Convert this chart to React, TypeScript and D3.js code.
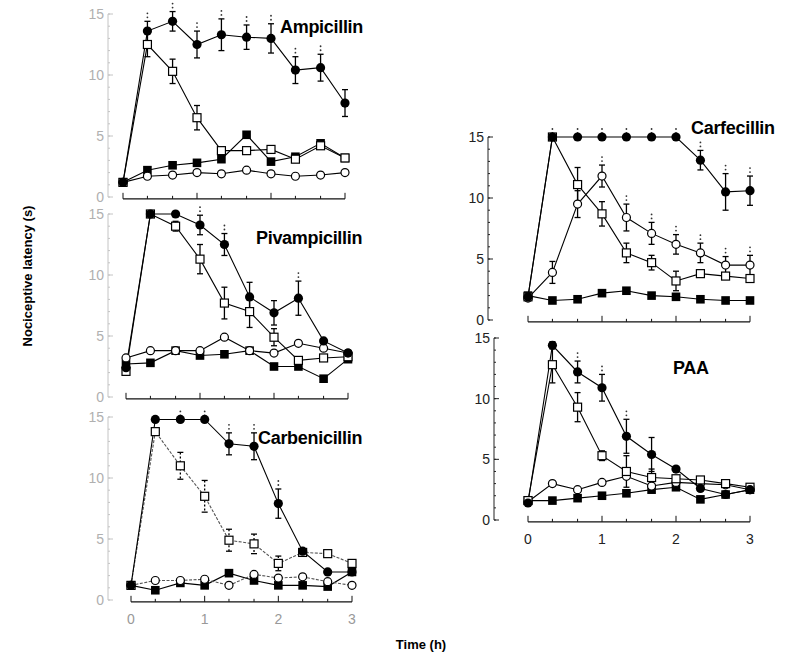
import * as d3 from "d3";

// sampling times (h)
const times = [0, 0.33, 0.67, 1, 1.33, 1.67, 2, 2.33, 2.67, 3];

// Ampicillin
const ampFilledCircle = [1.2, 13.6, 14.4, 12.5, 13.3, 13.1, 13.0, 10.4, 10.6, 7.7];
const ampFilledCircleErr = [0, 0.8, 0.8, 1.1, 1.3, 1.0, 1.2, 1.1, 1.1, 1.1];
const ampFilledCircleSig = [0, 1, 1, 1, 1, 1, 1, 1, 1, 0];
const ampOpenSquare = [1.2, 12.5, 10.3, 6.5, 3.8, 3.8, 3.9, 3.1, 4.2, 3.2];
const ampOpenSquareErr = [0, 1.0, 1.0, 1.0, 0, 0, 0, 0, 0, 0];
const ampFilledSquare = [1.2, 2.2, 2.6, 2.8, 3.1, 5.1, 2.9, 3.3, 4.4, 3.2];
const ampOpenCircle = [1.2, 1.7, 1.8, 2.0, 1.9, 2.2, 1.9, 1.7, 1.8, 2.0];

// Pivampicillin
const pivFilledCircle = [2.4, 15, 15, 14.1, 12.5, 8.2, 6.9, 8.1, 4.6, 3.6];
const pivFilledCircleErr = [0, 0, 0, 0.8, 0.9, 1.2, 1.0, 1.4, 0, 0];
const pivFilledCircleSig = [0, 0, 0, 1, 1, 0, 0, 1, 0, 0];
const pivOpenSquare = [2.1, 15, 14.0, 11.3, 7.7, 7.0, 4.9, 3.0, 3.2, 3.3];
const pivOpenSquareErr = [0, 0, 0.4, 1.2, 1.3, 1.3, 0.7, 0, 0, 0];
const pivFilledSquare = [2.7, 2.8, 3.8, 3.4, 3.5, 3.8, 2.5, 2.5, 1.5, 3.1];
const pivOpenCircle = [3.2, 3.8, 3.8, 3.8, 4.9, 3.8, 3.6, 4.4, 4.0, 3.6];

// Carbenicillin
const carbFilledCircle = [1.2, 14.8, 14.8, 14.8, 12.8, 12.6, 7.9, 4.0, 2.3, 2.3];
const carbFilledCircleErr = [0, 0, 0, 0, 0.9, 1.1, 1.2, 0, 0, 0];
const carbFilledCircleSig = [0, 0, 1, 1, 1, 1, 1, 0, 0, 0];
const carbOpenSquare = [1.2, 13.8, 11.0, 8.5, 4.9, 4.6, 3.0, 3.9, 3.8, 3.0];
const carbOpenSquareErr = [0, 0, 1.1, 1.3, 0.9, 0.8, 0.6, 0, 0, 0];
const carbFilledSquare = [1.2, 0.8, 1.4, 1.2, 2.2, 1.6, 1.2, 1.2, 1.1, 2.3];
const carbOpenCircle = [1.2, 1.6, 1.6, 1.7, 1.2, 2.1, 1.8, 1.9, 1.5, 1.2];

// Carfecillin
const carfFilledCircle = [1.9, 15, 15, 15, 15, 15, 15, 13.1, 10.5, 10.6];
const carfFilledCircleErr = [0, 0, 0, 0, 0, 0, 0, 0.8, 1.5, 1.2];
const carfFilledCircleSig = [0, 1, 1, 1, 1, 1, 1, 1, 1, 1];
const carfOpenSquare = [1.9, 15, 11.1, 8.7, 5.5, 4.7, 3.2, 3.8, 3.6, 3.4];
const carfOpenSquareErr = [0, 0, 1.4, 1.0, 0.8, 0.6, 0.8, 0, 0, 0];
const carfOpenCircle = [1.8, 3.9, 9.5, 11.8, 8.4, 7.1, 6.2, 5.5, 4.5, 4.5];
const carfOpenCircleErr = [0, 0.9, 1.1, 0.9, 1.1, 0.9, 0.8, 0.8, 0.7, 0.8];
const carfOpenCircleSig = [0, 0, 1, 1, 1, 1, 1, 1, 1, 1];
const carfFilledSquare = [2.0, 1.6, 1.7, 2.2, 2.4, 2.0, 1.9, 1.7, 1.6, 1.6];

// PAA
const paaFilledCircle = [1.4, 14.4, 12.2, 10.9, 6.9, 5.4, 4.2, 2.6, 2.1, 2.5];
const paaFilledCircleErr = [0, 0.3, 0.9, 1.1, 1.4, 1.4, 0, 0, 0, 0];
const paaFilledCircleSig = [0, 0, 1, 1, 1, 0, 0, 0, 0, 0];
const paaOpenSquare = [1.6, 12.8, 9.3, 5.3, 4.0, 3.5, 3.4, 3.3, 3.0, 2.7];
const paaOpenSquareErr = [0, 1.5, 1.2, 0.4, 1.3, 0.7, 0, 0, 0, 0];
const paaOpenCircle = [1.5, 3.0, 2.5, 3.1, 3.6, 2.8, 3.1, 3.0, 2.9, 2.5];
const paaFilledSquare = [1.6, 1.6, 1.8, 2.0, 2.2, 2.5, 2.7, 1.7, 2.1, 2.5];

const yTicks = [0, 5, 10, 15];
const xTickLabels = ["0", "1", "2", "3"];

type Series = {
  kind: "filledCircle" | "openCircle" | "openSquare" | "filledSquare";
  values: number[];
  err?: number[];
  sig?: number[];
};

const font = "Liberation Sans, Arial, sans-serif";

function Marker({ kind, cx, cy }) {
  if (kind === "filledCircle") return <circle cx={cx} cy={cy} r={4.6} fill="#000" />;
  if (kind === "openCircle")
    return <circle cx={cx} cy={cy} r={4} fill="#fff" stroke="#000" strokeWidth={1.2} />;
  if (kind === "openSquare")
    return <rect x={cx - 4} y={cy - 4} width={8} height={8} fill="#fff" stroke="#000" strokeWidth={1.2} />;
  return <rect x={cx - 4.3} y={cy - 4.3} width={8.6} height={8.6} fill="#000" />;
}

function Panel({ title, x0, x1, yZero, yTop, series, titleX, titleY, axisX, faint, dotted, xLabels }) {
  const x = d3.scaleLinear().domain([0, 3]).range([x0, x1]);
  const y = d3.scaleLinear().domain([0, 15]).range([yZero, yTop]);
  const line = d3.line<number>().x((_, i) => x(times[i])).y((d) => y(d));
  const axisColor = faint ? "#c4c4c4" : "#222";
  const bracketY = y(-0.15);
  return (
    <g>
      {/* y axis */}
      <line x1={axisX} x2={axisX} y1={y(0)} y2={y(15)} stroke={axisColor} strokeWidth={1} />
      {d3.range(0, 16).map((v) => (
        <line key={`m${v}`} x1={axisX} x2={axisX + 2} y1={y(v)} y2={y(v)} stroke={axisColor} />
      ))}
      {yTicks.map((v) => (
        <g key={v}>
          <line x1={axisX} x2={axisX + 5} y1={y(v)} y2={y(v)} stroke={axisColor} />
          <text x={axisX - 4} y={y(v)} dy="0.35em" textAnchor="end" fontSize={14}
            fontFamily={font} fill={faint ? "#b0b0b0" : "#222"}>{v}</text>
        </g>
      ))}
      {/* x bracket */}
      <line x1={x(0)} x2={x(3)} y1={bracketY} y2={bracketY} stroke="#111" strokeWidth={1.2} />
      {times.map((t, i) => {
        const major = i % 3 === 0;
        return <line key={`xt${i}`} x1={x(t)} x2={x(t)} y1={bracketY} y2={bracketY - (major ? 6 : 3)} stroke="#111" />;
      })}
      {xLabels &&
        xTickLabels.map((l, i) => (
          <text key={l} x={x(i)} y={bracketY + 22} textAnchor="middle" fontSize={14}
            fontFamily={font} fill={faint ? "#999" : "#222"}>{l}</text>
        ))}
      {/* lines */}
      {series.map((s, k) => (
        <path key={`l${k}`} d={line(s.values)} fill="none"
          stroke={dotted && s.kind !== "filledCircle" && s.kind !== "filledSquare" ? "#555" : "#000"}
          strokeDasharray={dotted && (s.kind === "openCircle" || s.kind === "openSquare") ? "3,1.5" : undefined}
          strokeWidth={1.1} />
      ))}
      {/* error bars */}
      {series.map((s, k) =>
        s.err
          ? s.err.map((e, i) =>
              e > 0 ? (
                <g key={`e${k}-${i}`} stroke="#000" strokeWidth={1.3}
                  strokeDasharray={dotted && s.kind === "openSquare" ? "2,2" : undefined}>
                  <line x1={x(times[i])} x2={x(times[i])} y1={y(s.values[i] + e)} y2={y(s.values[i] - e)} />
                  <line x1={x(times[i]) - 3} x2={x(times[i]) + 3} y1={y(s.values[i] + e)} y2={y(s.values[i] + e)} strokeDasharray="none" />
                  <line x1={x(times[i]) - 3} x2={x(times[i]) + 3} y1={y(s.values[i] - e)} y2={y(s.values[i] - e)} strokeDasharray="none" />
                </g>
              ) : null
            )
          : null
      )}
      {/* significance marks */}
      {series.map((s, k) =>
        s.sig
          ? s.sig.map((f, i) => {
              if (!f) return null;
              const top = y(s.values[i] + (s.err ? s.err[i] : 0)) - 4;
              return (
                <g key={`s${k}-${i}`} fill="#333">
                  <circle cx={x(times[i])} cy={top} r={0.9} />
                  <circle cx={x(times[i])} cy={top - 4} r={0.9} />
                </g>
              );
            })
          : null
      )}
      {/* markers */}
      {series.map((s, k) =>
        s.values.map((v, i) => <Marker key={`p${k}-${i}`} kind={s.kind} cx={x(times[i])} cy={y(v)} />)
      )}
      <text x={titleX} y={titleY} fontSize={18} fontWeight="bold" letterSpacing={-0.3}
        fontFamily={font} fill="#000">{title}</text>
    </g>
  );
}

export default function App() {
  return (
    <svg width={785} height={657} style={{ position: "absolute", left: 0, top: 0, background: "#fff" }}>
      <rect width={785} height={657} fill="#fff" />
      <Panel title="Ampicillin" x0={123} x1={345} yZero={197} yTop={14} axisX={108} faint xLabels={false}
        titleX={280} titleY={33}
        series={[
          { kind: "filledSquare", values: ampFilledSquare },
          { kind: "openCircle", values: ampOpenCircle },
          { kind: "openSquare", values: ampOpenSquare, err: ampOpenSquareErr },
          { kind: "filledCircle", values: ampFilledCircle, err: ampFilledCircleErr, sig: ampFilledCircleSig },
        ]} />
      <Panel title="Pivampicillin" x0={126} x1={348} yZero={397} yTop={214} axisX={108} faint xLabels={false}
        titleX={256} titleY={244}
        series={[
          { kind: "filledSquare", values: pivFilledSquare },
          { kind: "openCircle", values: pivOpenCircle },
          { kind: "openSquare", values: pivOpenSquare, err: pivOpenSquareErr },
          { kind: "filledCircle", values: pivFilledCircle, err: pivFilledCircleErr, sig: pivFilledCircleSig },
        ]} />
      <Panel title="Carbenicillin" x0={131} x1={352} yZero={600} yTop={417} axisX={108} faint dotted xLabels
        titleX={258} titleY={444}
        series={[
          { kind: "filledSquare", values: carbFilledSquare },
          { kind: "openCircle", values: carbOpenCircle },
          { kind: "openSquare", values: carbOpenSquare, err: carbOpenSquareErr },
          { kind: "filledCircle", values: carbFilledCircle, err: carbFilledCircleErr, sig: carbFilledCircleSig },
        ]} />
      <Panel title="Carfecillin" x0={528} x1={750} yZero={320} yTop={137} axisX={488} faint={false} xLabels={false}
        titleX={691} titleY={134}
        series={[
          { kind: "filledSquare", values: carfFilledSquare },
          { kind: "openCircle", values: carfOpenCircle, err: carfOpenCircleErr, sig: carfOpenCircleSig },
          { kind: "openSquare", values: carfOpenSquare, err: carfOpenSquareErr },
          { kind: "filledCircle", values: carfFilledCircle, err: carfFilledCircleErr, sig: carfFilledCircleSig },
        ]} />
      <Panel title="PAA" x0={528} x1={750} yZero={520} yTop={338} axisX={494} faint={false} xLabels
        titleX={673} titleY={374}
        series={[
          { kind: "filledSquare", values: paaFilledSquare },
          { kind: "openCircle", values: paaOpenCircle },
          { kind: "openSquare", values: paaOpenSquare, err: paaOpenSquareErr },
          { kind: "filledCircle", values: paaFilledCircle, err: paaFilledCircleErr, sig: paaFilledCircleSig },
        ]} />
      <text transform="translate(32,276) rotate(-90)" textAnchor="middle" fontSize={13} fontWeight="bold"
        fontFamily={font}>Nociceptive latency (s)</text>
      <text x={421} y={649} textAnchor="middle" fontSize={13} fontWeight="bold" fontFamily={font}>Time (h)</text>
    </svg>
  );
}
